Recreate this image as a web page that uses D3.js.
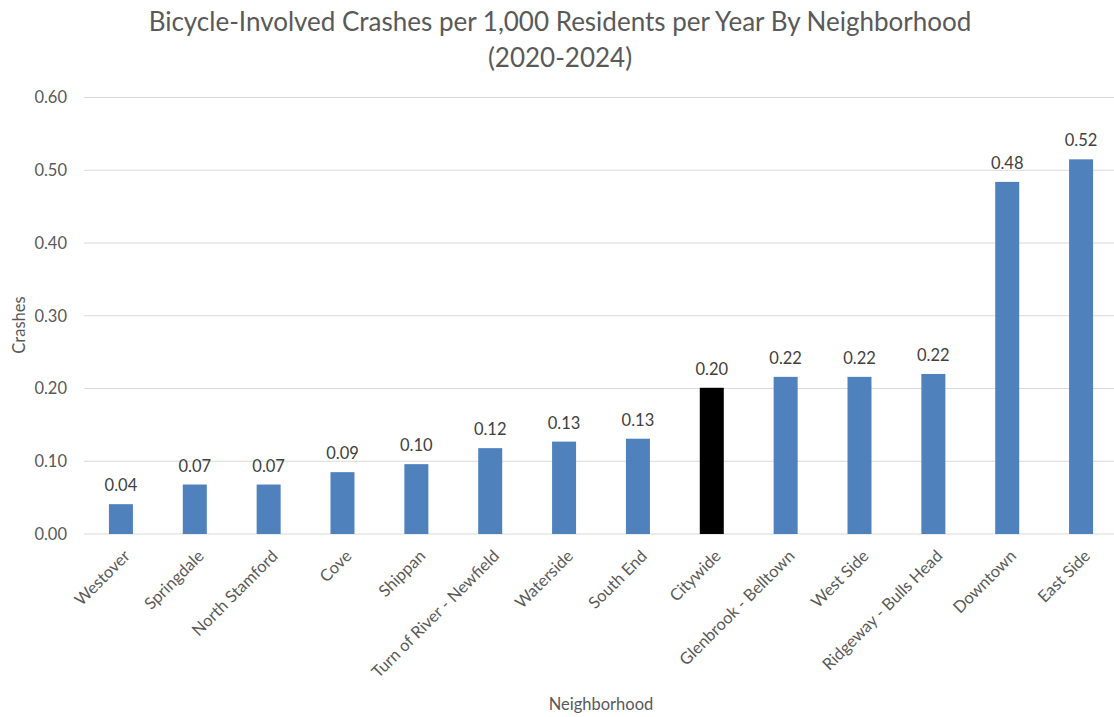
<!DOCTYPE html>
<html><head><meta charset="utf-8">
<script src="https://cdn.jsdelivr.net/npm/d3@7"></script>
<style>body{margin:0;background:#fff;} svg{display:block;font-family:Lato,"Open Sans",sans-serif;}</style>
</head><body>
<svg id="c" width="1114" height="717"></svg>
<script>
const categories = ["Westover","Springdale","North Stamford","Cove","Shippan","Turn of River - Newfield","Waterside","South End","Citywide","Glenbrook - Belltown","West Side","Ridgeway - Bulls Head","Downtown","East Side"];
const values = [0.041,0.068,0.068,0.085,0.096,0.118,0.127,0.131,0.201,0.216,0.216,0.220,0.484,0.515];
const valueLabels = ["0.04","0.07","0.07","0.09","0.10","0.12","0.13","0.13","0.20","0.22","0.22","0.22","0.48","0.52"];
const yTicks = [0,0.1,0.2,0.3,0.4,0.5,0.6];
const highlight = "Citywide";

const svg = d3.select("#c");
const x = d3.scaleBand().domain(categories).range([84,1118]).paddingInner(0.675).paddingOuter(0.3375);
const y = d3.scaleLinear().domain([0,0.6]).range([534,97.5]);
const grey = "#595959";
const fs = 16.5;

svg.append("g").selectAll("line").data(yTicks).join("line")
  .attr("x1",84).attr("x2",1114).attr("y1",d=>y(d)).attr("y2",d=>y(d))
  .attr("stroke","#d9d9d9").attr("stroke-width",1);

svg.append("g").selectAll("text").data(yTicks).join("text")
  .attr("x",67).attr("y",d=>y(d)).attr("dy","0.35em").attr("text-anchor","end")
  .attr("fill",grey).attr("font-size",fs).text(d=>d3.format(".2f")(d));

svg.append("g").selectAll("rect").data(categories).join("rect")
  .attr("x",d=>x(d)).attr("width",x.bandwidth())
  .attr("y",(d,i)=>y(values[i])).attr("height",(d,i)=>y(0)-y(values[i]))
  .attr("fill",d=>d===highlight?"#000000":"#4F81BD");

svg.append("g").selectAll("text").data(categories).join("text")
  .attr("x",d=>x(d)+x.bandwidth()/2).attr("y",(d,i)=>y(values[i])-13)
  .attr("text-anchor","middle").attr("fill","#404040").attr("font-size",fs)
  .text((d,i)=>valueLabels[i]);

svg.append("g").selectAll("text").data(categories).join("text")
  .attr("transform",d=>`translate(${x(d)+x.bandwidth()/2+6},${553}) rotate(-45)`)
  .attr("text-anchor","end").attr("dy","0.35em").attr("fill",grey).attr("font-size",fs).text(d=>d);

svg.append("text").attr("x",560).attr("y",31).attr("text-anchor","middle").attr("fill",grey).attr("font-size",26)
  .text("Bicycle-Involved Crashes per 1,000 Residents per Year By Neighborhood");
svg.append("text").attr("x",560).attr("y",67).attr("text-anchor","middle").attr("fill",grey).attr("font-size",26)
  .text("(2020-2024)");

svg.append("text").attr("transform","translate(25,325) rotate(-90)").attr("text-anchor","middle")
  .attr("fill",grey).attr("font-size",fs).text("Crashes");
svg.append("text").attr("x",601).attr("y",710).attr("text-anchor","middle")
  .attr("fill",grey).attr("font-size",fs).text("Neighborhood");
</script>
</body></html>
